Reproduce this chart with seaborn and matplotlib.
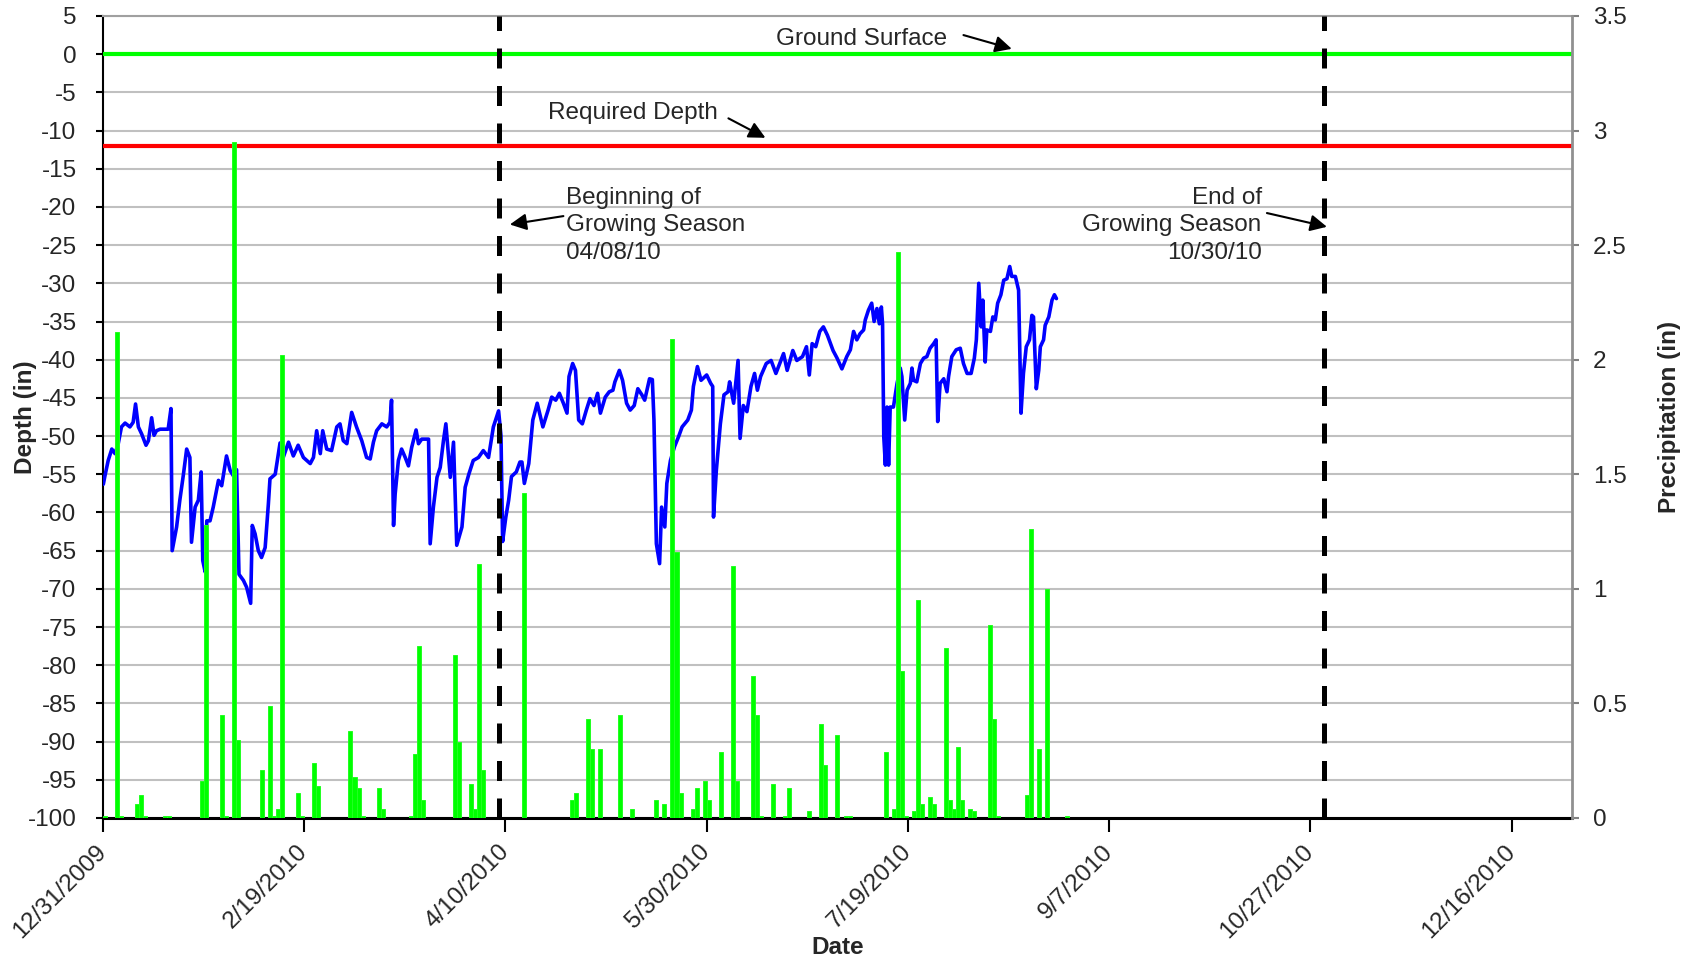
import numpy as np
import pandas as pd
import matplotlib
matplotlib.use("Agg")
import matplotlib.pyplot as plt
import matplotlib.dates as mdates
import seaborn as sns

# ---------------------------------------------------------------------------
# Data
# ---------------------------------------------------------------------------
start_date = "2009-12-31"
end_date = "2010-12-31"

# Water-table depth readings: elapsed days since 12/31/2009 and depth (in)
level_day = [
    0.1, 0.5, 1.3, 2.2, 3.0, 3.8, 4.6, 5.5, 6.7, 7.5, 8.1, 8.8, 9.6, 10.7, 11.3,
    12.1, 12.7, 13.3, 14.2, 16.2, 16.9, 17.2, 18.3, 19.1, 20.0, 20.8, 21.6, 22.0,
    22.9, 23.7, 24.4, 24.8, 25.4, 25.8, 26.6, 27.4, 28.7, 29.5, 30.7, 31.6, 32.4,
    33.2, 33.8, 34.9, 35.7, 36.7, 37.1, 37.8, 38.6, 39.4, 40.3, 41.1, 41.5, 42.8,
    44.0, 44.8, 46.1, 47.3, 48.5, 49.8, 51.5, 52.3, 53.1, 54.0, 54.6, 55.6, 56.8,
    58.1, 58.9, 59.7, 60.6, 61.8, 63.0, 64.3, 65.5, 66.4, 67.2, 68.0, 69.3, 70.5,
    71.3, 71.7, 72.2, 72.6, 73.4, 74.2, 75.1, 75.9, 76.7, 77.8, 78.4, 79.2, 80.9,
    81.3, 82.1, 83.0, 83.8, 84.6, 85.2, 86.3, 87.1, 87.9, 89.2, 90.0, 90.9, 92.0,
    93.3, 94.5, 95.8, 97.0, 98.3, 98.9, 99.3, 100.1, 100.8, 101.5, 102.7, 103.6,
    104.1, 104.7, 105.8, 106.8, 107.9, 108.7, 109.3, 110.6, 111.5, 112.5, 113.4,
    114.4, 115.3, 115.8, 116.7, 117.4, 118.2, 119.1, 120.1, 121.0, 122.0, 122.9,
    123.6, 124.8, 125.8, 126.7, 127.2, 128.3, 129.1, 130.1, 131.0, 132.0, 132.9,
    133.9, 134.6, 135.8, 136.5, 136.9, 137.5, 138.3, 138.8, 139.6, 140.1, 141.0,
    142.0, 143.0, 143.9, 145.3, 146.2, 146.7, 147.7, 148.6, 150.0, 151.0, 151.5,
    151.7, 152.4, 153.4, 154.3, 155.3, 155.7, 156.7, 157.8, 158.3, 159.1, 160.0,
    161.0, 161.9, 162.6, 163.4, 164.8, 166.0, 167.2, 169.1, 170.0, 171.4, 172.4,
    173.8, 174.8, 175.5, 176.2, 177.1, 178.1, 179.0, 180.0, 181.4, 182.4, 183.6,
    184.8, 185.7, 186.5, 187.3, 188.1, 189.0, 189.4, 190.2, 191.0, 191.6, 192.3,
    192.9, 193.4, 193.7, 194.0, 194.4, 194.8, 195.2, 195.6, 196.4, 197.3, 198.1,
    198.5, 199.2, 199.8, 200.6, 201.0, 201.4, 202.2, 203.1, 203.9, 204.7, 205.5,
    206.4, 207.0, 207.4, 208.0, 208.9, 209.7, 210.1, 210.9, 212.0, 213.0, 213.8,
    214.7, 215.7, 216.5, 217.0, 217.6, 218.2, 218.6, 219.2, 219.6, 220.5, 221.1,
    221.7, 222.3, 223.1, 223.8, 224.6, 225.3, 225.8, 226.7, 227.5, 228.1, 228.7,
    229.4, 230.2, 230.8, 231.2, 231.9, 232.5, 232.9, 233.7, 234.1, 235.0, 235.8,
    236.4, 236.9,
]
level_depth = [
    -56.3, -55.2, -53.2, -51.7, -52.3, -51.0, -48.8, -48.3, -48.8, -48.2, -45.8,
    -48.8, -49.7, -51.2, -50.6, -47.6, -49.9, -49.3, -49.1, -49.1, -46.4, -65.0,
    -61.9, -58.4, -55.0, -51.7, -52.8, -63.9, -59.3, -58.4, -54.7, -66.3, -67.8,
    -61.1, -61.1, -59.3, -55.8, -56.5, -52.6, -54.5, -55.2, -54.4, -68.1, -68.9,
    -69.8, -71.9, -61.7, -62.8, -65.0, -65.9, -64.6, -58.9, -55.6, -55.0, -50.9,
    -52.8, -50.8, -52.6, -51.2, -52.8, -53.6, -52.8, -49.3, -52.3, -49.3, -51.7,
    -51.9, -48.8, -48.4, -50.6, -51.0, -46.9, -48.8, -50.6, -52.8, -53.0, -50.8,
    -49.3, -48.4, -48.8, -48.2, -45.3, -61.7, -57.6, -53.2, -51.7, -52.8, -53.9,
    -51.5, -49.2, -51.0, -50.4, -50.4, -64.1, -59.3, -55.4, -54.1, -50.6, -48.4,
    -55.4, -50.8, -64.3, -61.9, -56.7, -55.0, -53.2, -52.8, -51.9, -52.8, -48.8,
    -46.7, -50.0, -63.8, -60.6, -58.4, -55.3, -54.7, -53.4, -53.4, -56.2, -53.6,
    -47.9, -45.7, -47.5, -48.8, -46.6, -44.9, -45.3, -44.4, -45.7, -47.0, -42.2,
    -40.5, -41.4, -47.9, -48.4, -46.6, -45.1, -46.0, -44.4, -47.0, -44.9, -44.2,
    -44.0, -42.9, -41.4, -42.7, -45.7, -46.6, -46.0, -43.8, -44.6, -45.3, -42.5,
    -42.6, -47.9, -64.1, -66.7, -59.3, -61.9, -56.2, -53.2, -51.4, -50.1, -48.8,
    -47.9, -46.6, -43.5, -40.9, -42.7, -42.0, -43.1, -43.5, -60.6, -54.5, -48.4,
    -44.6, -44.2, -42.9, -45.7, -40.1, -50.3, -46.0, -46.8, -43.5, -41.8, -44.0,
    -42.2, -40.5, -40.1, -41.8, -39.2, -41.4, -38.8, -40.1, -39.6, -38.3, -42.0,
    -37.9, -38.3, -36.3, -35.7, -36.8, -38.8, -39.8, -41.2, -39.6, -38.7, -36.3,
    -37.4, -36.6, -36.1, -34.8, -33.5, -32.6, -35.0, -33.3, -35.3, -33.1, -35.3,
    -50.1, -53.8, -46.2, -53.8, -46.2, -46.2, -43.1, -41.1, -42.2, -47.9, -44.0,
    -43.1, -41.1, -42.7, -42.9, -40.5, -39.8, -39.6, -38.5, -37.9, -37.4, -48.1,
    -43.1, -42.5, -44.2, -42.2, -39.6, -38.7, -38.5, -40.5, -41.8, -41.8, -39.8,
    -37.4, -30.0, -35.7, -32.2, -40.3, -36.1, -36.3, -34.4, -34.8, -32.6, -31.5,
    -29.6, -29.4, -27.8, -29.1, -29.1, -30.9, -47.0, -41.8, -38.3, -37.4, -34.2,
    -34.4, -43.8, -41.4, -38.3, -37.4, -35.5, -34.4, -32.2, -31.5, -32.0,
]

# Daily precipitation: day number since 12/31/2009 and total (in)
rain_day = [
    0, 3, 4, 8, 9, 10, 15, 16, 24, 25, 29, 30, 32, 33, 39, 41, 42, 43, 44, 48,
    49, 52, 53, 61, 62, 63, 64, 68, 69, 76, 77, 78, 79, 87, 88, 91, 92, 93, 94,
    104, 116, 117, 120, 121, 123, 128, 131, 137, 139, 141, 142, 143, 146, 147,
    149, 150, 153, 156, 157, 161, 162, 163, 166, 169, 170, 175, 178, 179, 182,
    184, 185, 194, 196, 197, 198, 199, 201, 202, 203, 205, 206, 209, 210, 211,
    212, 213, 215, 216, 220, 221, 222, 229, 230, 232, 234, 239,
]
rain_in = [
    0.01, 2.12, 0.01, 0.06, 0.10, 0.01, 0.01, 0.01, 0.16, 1.28, 0.45, 0.01,
    2.95, 0.34, 0.21, 0.49, 0.01, 0.04, 2.02, 0.11, 0.01, 0.24, 0.14, 0.38,
    0.18, 0.13, 0.01, 0.13, 0.04, 0.01, 0.28, 0.75, 0.08, 0.71, 0.33, 0.15,
    0.04, 1.11, 0.21, 1.42, 0.08, 0.11, 0.43, 0.30, 0.30, 0.45, 0.04, 0.08,
    0.06, 2.09, 1.16, 0.11, 0.04, 0.13, 0.16, 0.08, 0.29, 1.10, 0.16, 0.62,
    0.45, 0.01, 0.15, 0.01, 0.13, 0.03, 0.41, 0.23, 0.36, 0.01, 0.01, 0.29,
    0.04, 2.47, 0.64, 0.01, 0.03, 0.95, 0.06, 0.09, 0.06, 0.74, 0.08, 0.04,
    0.31, 0.08, 0.04, 0.03, 0.84, 0.43, 0.01, 0.10, 1.26, 0.30, 1.00, 0.01,
]

ground_surface = 0
required_depth = -12
season_start = "2010-04-08"
season_end = "2010-10-30"

tick_labels = ["12/31/2009", "2/19/2010", "4/10/2010", "5/30/2010",
               "7/19/2010", "9/7/2010", "10/27/2010", "12/16/2010"]
depth_ticks = list(range(-100, 6, 5))
precip_ticks = [0, 0.5, 1, 1.5, 2, 2.5, 3, 3.5]

# ---------------------------------------------------------------------------
# Styling
# ---------------------------------------------------------------------------
sns.set_style("white")
plt.rcParams["font.family"] = ["Liberation Sans", "DejaVu Sans"]
FS = 17.5

x0 = mdates.datestr2num(start_date)
x1 = mdates.datestr2num(end_date)
slot = 0.5  # daily values sit in the middle of their day

fig = plt.figure(figsize=(16.96, 9.63), dpi=100)
ax = fig.add_axes([0.0607, 0.1506, 0.8662, 0.8328])

# Gridlines on the depth axis
ax.set_ylim(-100, 5)
ax.set_yticks(depth_ticks)
ax.set_yticklabels([str(t) for t in depth_ticks])
ax.grid(axis="y", color="#c0c0c0", lw=1.5)
ax.grid(axis="x", visible=False)
ax.set_axisbelow(True)

# Water-table depth
level = pd.DataFrame({"time": x0 + np.asarray(level_day),
                      "depth": level_depth})
sns.lineplot(data=level, x="time", y="depth", ax=ax, color="#0000ff",
             lw=2.6, estimator=None, sort=False, zorder=3)

# Reference levels
ax.axhline(ground_surface, color="#00ff00", lw=3, zorder=4)
ax.axhline(required_depth, color="#ff0000", lw=3, zorder=4)

# Precipitation on the secondary axis
ax2 = ax.twinx()
ax2.bar(x0 + np.asarray(rain_day) + slot, rain_in, width=1.0,
        color="#00ff00", edgecolor="#22ff22", linewidth=0.7, zorder=2)
ax2.set_ylim(0, 3.5)
ax2.set_yticks(precip_ticks)
ax2.set_yticklabels(["0", "0.5", "1", "1.5", "2", "2.5", "3", "3.5"])

# Growing season boundaries
for d in (season_start, season_end):
    ax2.axvline(mdates.datestr2num(d) + slot, color="black", lw=3.6,
                linestyle=(0, (4, 3.5)), zorder=5)

# X axis (dates)
ax.set_xlim(x0, x1)
tick_pos = [mdates.datestr2num(pd.to_datetime(t).strftime("%Y-%m-%d"))
            for t in tick_labels]
ax.set_xticks(tick_pos)
ax.set_xticklabels(tick_labels, rotation=45, ha="right", va="center",
                   rotation_mode="anchor")

ax.tick_params(axis="x", bottom=True, direction="out", length=10, width=1.5,
               color="black", labelsize=FS, pad=12)
ax.tick_params(axis="y", left=True, direction="out", length=5, width=1.5,
               color="black", labelsize=FS, pad=14)
ax2.tick_params(axis="y", right=True, direction="out", length=5, width=1.5,
                color="#808080", labelsize=FS, pad=10)

# Spines
ax.spines["left"].set_color("black")
ax.spines["left"].set_linewidth(1.5)
ax.spines["bottom"].set_color("black")
ax.spines["bottom"].set_linewidth(2.2)
ax.spines["top"].set_color("#a0a0a0")
ax.spines["top"].set_linewidth(1.5)
ax.spines["right"].set_visible(False)
for s in ("left", "bottom", "top"):
    ax2.spines[s].set_visible(False)
ax2.spines["right"].set_color("#909090")
ax2.spines["right"].set_linewidth(2)

# Axis titles
ax.set_xlabel("Date", fontsize=FS, fontweight="bold")
ax.xaxis.set_label_coords(0.5, -0.147)
ax.set_ylabel("Depth (in)", fontsize=FS, fontweight="bold")
ax.yaxis.set_label_coords(-0.045, 0.5)
ax2.set_ylabel("Precipitation (in)", fontsize=FS, fontweight="bold")
ax2.yaxis.set_label_coords(1.0585, 0.5)

# Annotations
arrow = dict(arrowstyle="-|>", color="black", lw=1.5, mutation_scale=25,
             shrinkA=0, shrinkB=0)
ax.text(x0 + 188.5, 2.0, "Ground Surface",
        fontsize=FS, ha="center", va="center", zorder=6)
ax.annotate("", xy=(x0 + 225.8, 0.7), xytext=(x0 + 213.8, 2.5),
            arrowprops=arrow, annotation_clip=False, zorder=6)

ax.text(x0 + 131.7, -7.7, "Required Depth", fontsize=FS,
        ha="center", va="center", zorder=6)
ax.annotate("", xy=(x0 + 164.6, -10.95), xytext=(x0 + 155.4, -8.4),
            arrowprops=arrow, zorder=6)

ax.text(x0 + 115.1, -22.4, "Beginning of\nGrowing Season\n04/08/10",
        fontsize=FS, ha="left", va="center", linespacing=1.33, zorder=6)
ax.annotate("", xy=(x0 + 101.1, -22.3), xytext=(x0 + 114.4, -21.2),
            arrowprops=arrow, zorder=6)

ax.text(x0 + 287.9, -22.4, "End of\nGrowing Season\n10/30/10",
        fontsize=FS, ha="right", va="center", multialignment="right",
        linespacing=1.33, zorder=6)
ax.annotate("", xy=(x0 + 304.1, -22.6), xytext=(x0 + 289.2, -20.8),
            arrowprops=arrow, zorder=6)

fig.savefig("out.png", dpi=100)
